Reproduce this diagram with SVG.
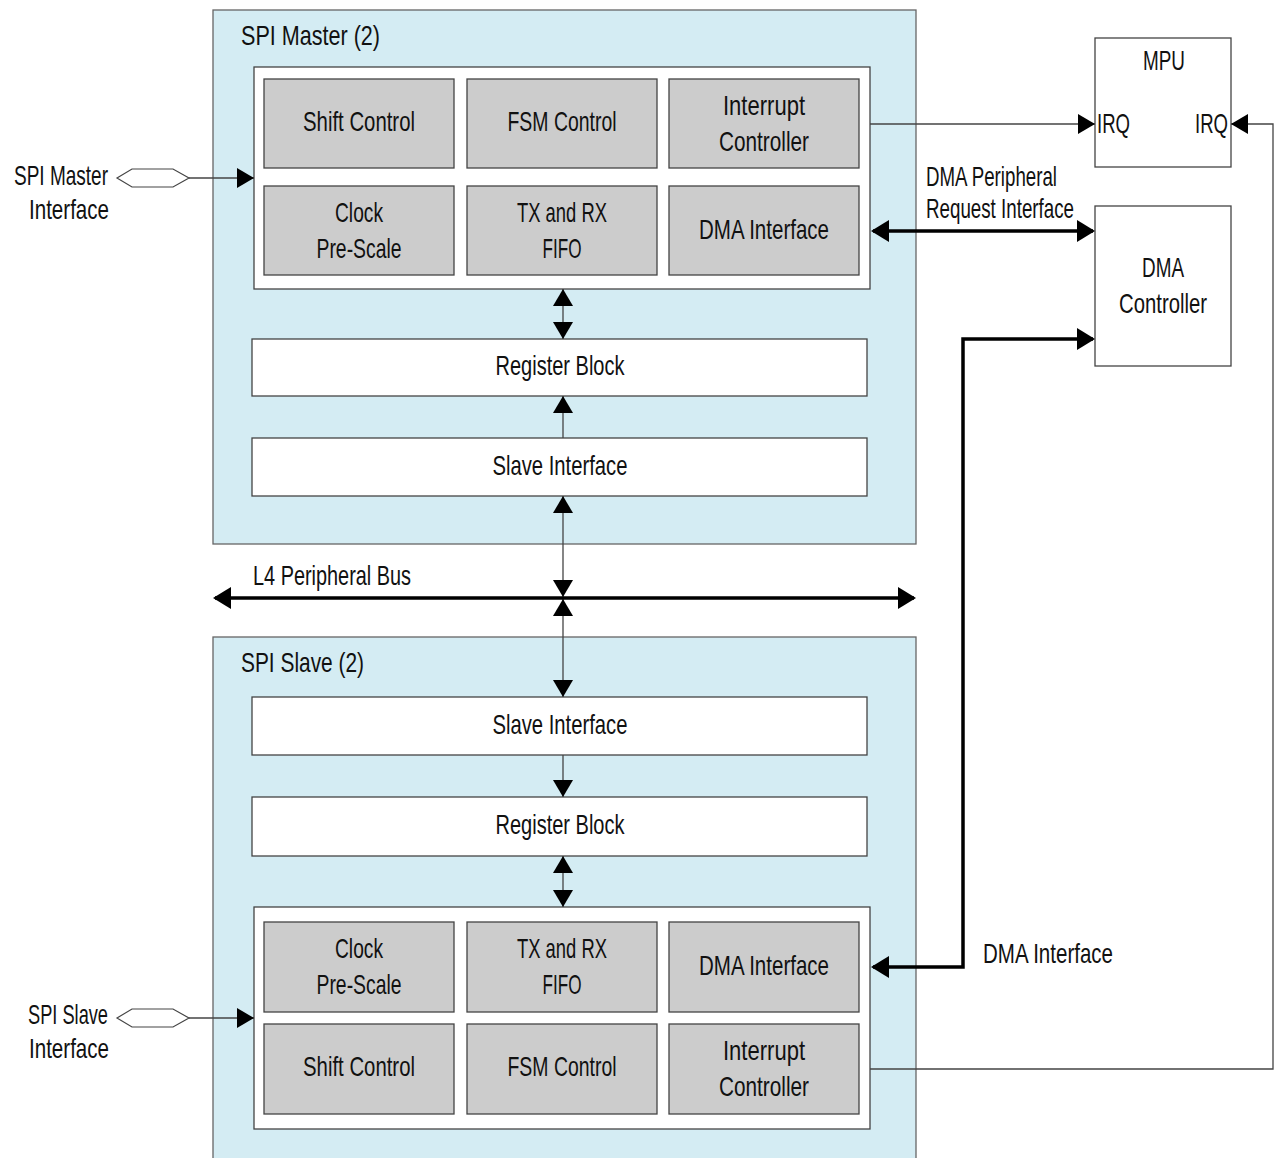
<svg xmlns="http://www.w3.org/2000/svg" width="1275" height="1158" viewBox="0 0 1275 1158">
<style>
text{font-family:"Liberation Sans Narrow","Liberation Sans",Arial,sans-serif;font-size:28px;fill:#111}
.c{text-anchor:middle}
.outer{fill:#d4ecf3;stroke:#666;stroke-width:1.3}
.inner{fill:#fff;stroke:#444;stroke-width:1.3}
.cell{fill:#cccccc;stroke:#444;stroke-width:1.3}
.box{fill:#fff;stroke:#444;stroke-width:1.3}
.thin{fill:none;stroke:#444;stroke-width:1.3}
.thick{fill:none;stroke:#000;stroke-width:3.5}
.hex{fill:#fff;stroke:#444;stroke-width:1.2}
</style>
<defs>
<marker id="a" viewBox="0 0 17 20" refX="17" refY="10" markerWidth="17" markerHeight="20" markerUnits="userSpaceOnUse" orient="auto-start-reverse"><path d="M0,0L17,10L0,20z" fill="#000"/></marker>
<marker id="at" viewBox="0 0 18 22" refX="16" refY="11" markerWidth="18" markerHeight="22" markerUnits="userSpaceOnUse" orient="auto-start-reverse"><path d="M0,0L18,11L0,22z" fill="#000"/></marker>
</defs>

<g id="spi-master">
<rect class="outer" x="213" y="10" width="703" height="534"/>
<text x="241" y="45" textLength="139" lengthAdjust="spacingAndGlyphs">SPI Master (2)</text>
<rect class="inner" x="254" y="67" width="616" height="222"/>
<g id="m-shift"><rect class="cell" x="264" y="79" width="190" height="89"/><text class="c" x="359" y="131" textLength="112" lengthAdjust="spacingAndGlyphs">Shift Control</text></g>
<g id="m-fsm"><rect class="cell" x="467" y="79" width="190" height="89"/><text class="c" x="562" y="131" textLength="109" lengthAdjust="spacingAndGlyphs">FSM Control</text></g>
<g id="m-int"><rect class="cell" x="669" y="79" width="190" height="89"/><text class="c" x="764" y="115" textLength="82" lengthAdjust="spacingAndGlyphs">Interrupt</text><text class="c" x="764" y="151" textLength="90" lengthAdjust="spacingAndGlyphs">Controller</text></g>
<g id="m-clock"><rect class="cell" x="264" y="186" width="190" height="89"/><text class="c" x="359" y="222" textLength="48" lengthAdjust="spacingAndGlyphs">Clock</text><text class="c" x="359" y="258" textLength="85" lengthAdjust="spacingAndGlyphs">Pre-Scale</text></g>
<g id="m-fifo"><rect class="cell" x="467" y="186" width="190" height="89"/><text class="c" x="562" y="222" textLength="90" lengthAdjust="spacingAndGlyphs">TX and RX</text><text class="c" x="562" y="258" textLength="39" lengthAdjust="spacingAndGlyphs">FIFO</text></g>
<g id="m-dma"><rect class="cell" x="669" y="186" width="190" height="89"/><text class="c" x="764" y="239" textLength="130" lengthAdjust="spacingAndGlyphs">DMA Interface</text></g>
<g id="m-reg"><rect class="box" x="252" y="339" width="615" height="57"/><text class="c" x="560" y="375" textLength="129" lengthAdjust="spacingAndGlyphs">Register Block</text></g>
<g id="m-slave"><rect class="box" x="252" y="438" width="615" height="58"/><text class="c" x="560" y="475" textLength="135" lengthAdjust="spacingAndGlyphs">Slave Interface</text></g>
</g>

<g id="spi-slave">
<rect class="outer" x="213" y="637" width="703" height="530"/>
<text x="241" y="672" textLength="123" lengthAdjust="spacingAndGlyphs">SPI Slave (2)</text>
<g id="s-slave"><rect class="box" x="252" y="697" width="615" height="58"/><text class="c" x="560" y="734" textLength="135" lengthAdjust="spacingAndGlyphs">Slave Interface</text></g>
<g id="s-reg"><rect class="box" x="252" y="797" width="615" height="59"/><text class="c" x="560" y="834" textLength="129" lengthAdjust="spacingAndGlyphs">Register Block</text></g>
<rect class="inner" x="254" y="907" width="616" height="222"/>
<g id="s-clock"><rect class="cell" x="264" y="922" width="190" height="90"/><text class="c" x="359" y="958" textLength="48" lengthAdjust="spacingAndGlyphs">Clock</text><text class="c" x="359" y="994" textLength="85" lengthAdjust="spacingAndGlyphs">Pre-Scale</text></g>
<g id="s-fifo"><rect class="cell" x="467" y="922" width="190" height="90"/><text class="c" x="562" y="958" textLength="90" lengthAdjust="spacingAndGlyphs">TX and RX</text><text class="c" x="562" y="994" textLength="39" lengthAdjust="spacingAndGlyphs">FIFO</text></g>
<g id="s-dma"><rect class="cell" x="669" y="922" width="190" height="90"/><text class="c" x="764" y="975" textLength="130" lengthAdjust="spacingAndGlyphs">DMA Interface</text></g>
<g id="s-shift"><rect class="cell" x="264" y="1024" width="190" height="90"/><text class="c" x="359" y="1076" textLength="112" lengthAdjust="spacingAndGlyphs">Shift Control</text></g>
<g id="s-fsm"><rect class="cell" x="467" y="1024" width="190" height="90"/><text class="c" x="562" y="1076" textLength="109" lengthAdjust="spacingAndGlyphs">FSM Control</text></g>
<g id="s-int"><rect class="cell" x="669" y="1024" width="190" height="90"/><text class="c" x="764" y="1060" textLength="82" lengthAdjust="spacingAndGlyphs">Interrupt</text><text class="c" x="764" y="1096" textLength="90" lengthAdjust="spacingAndGlyphs">Controller</text></g>
</g>

<g id="mpu">
<rect class="box" x="1095" y="38" width="136" height="129"/>
<text class="c" x="1164" y="70" textLength="42" lengthAdjust="spacingAndGlyphs">MPU</text>
<text x="1097" y="133" textLength="33" lengthAdjust="spacingAndGlyphs">IRQ</text>
<text x="1195" y="133" textLength="33" lengthAdjust="spacingAndGlyphs">IRQ</text>
</g>

<g id="dma-controller">
<rect class="box" x="1095" y="206" width="136" height="160"/>
<text class="c" x="1163" y="277" textLength="42" lengthAdjust="spacingAndGlyphs">DMA</text>
<text class="c" x="1163" y="313" textLength="88" lengthAdjust="spacingAndGlyphs">Controller</text>
</g>

<g id="labels">
<text x="14" y="185" textLength="94" lengthAdjust="spacingAndGlyphs">SPI Master</text>
<text x="29" y="219" textLength="80" lengthAdjust="spacingAndGlyphs">Interface</text>
<text x="28" y="1024" textLength="80" lengthAdjust="spacingAndGlyphs">SPI Slave</text>
<text x="29" y="1058" textLength="80" lengthAdjust="spacingAndGlyphs">Interface</text>
<text x="253" y="585" textLength="158" lengthAdjust="spacingAndGlyphs">L4 Peripheral Bus</text>
<text x="926" y="186" textLength="131" lengthAdjust="spacingAndGlyphs">DMA Peripheral</text>
<text x="926" y="218" textLength="148" lengthAdjust="spacingAndGlyphs">Request Interface</text>
<text x="983" y="963" textLength="130" lengthAdjust="spacingAndGlyphs">DMA Interface</text>
</g>

<g id="connectors">
<polygon class="hex" points="117,178 132,169 173,169 189,178 173,187 132,187"/>
<line class="thin" x1="189" y1="178" x2="254" y2="178" marker-end="url(#a)"/>
<polygon class="hex" points="117,1018 132,1009 173,1009 189,1018 173,1027 132,1027"/>
<line class="thin" x1="189" y1="1018" x2="254" y2="1018" marker-end="url(#a)"/>
<line class="thin" x1="563" y1="289" x2="563" y2="339" marker-start="url(#a)" marker-end="url(#a)"/>
<line class="thin" x1="563" y1="438" x2="563" y2="396" marker-end="url(#a)"/>
<line class="thin" x1="563" y1="496" x2="563" y2="597" marker-start="url(#a)" marker-end="url(#a)"/>
<line class="thin" x1="563" y1="599" x2="563" y2="697" marker-start="url(#a)" marker-end="url(#a)"/>
<line class="thin" x1="563" y1="755" x2="563" y2="797" marker-end="url(#a)"/>
<line class="thin" x1="563" y1="856" x2="563" y2="907" marker-start="url(#a)" marker-end="url(#a)"/>
<line class="thick" x1="215" y1="598" x2="914" y2="598" marker-start="url(#at)" marker-end="url(#at)"/>
<line class="thin" x1="870" y1="124" x2="1095" y2="124" marker-end="url(#a)"/>
<polyline class="thin" points="870,1069 1273,1069 1273,124 1231,124" marker-end="url(#a)"/>
<line class="thick" x1="873" y1="231" x2="1093" y2="231" marker-start="url(#at)" marker-end="url(#at)"/>
<polyline class="thick" points="873,967 963,967 963,339 1093,339" marker-start="url(#at)" marker-end="url(#at)"/>
</g>
</svg>
